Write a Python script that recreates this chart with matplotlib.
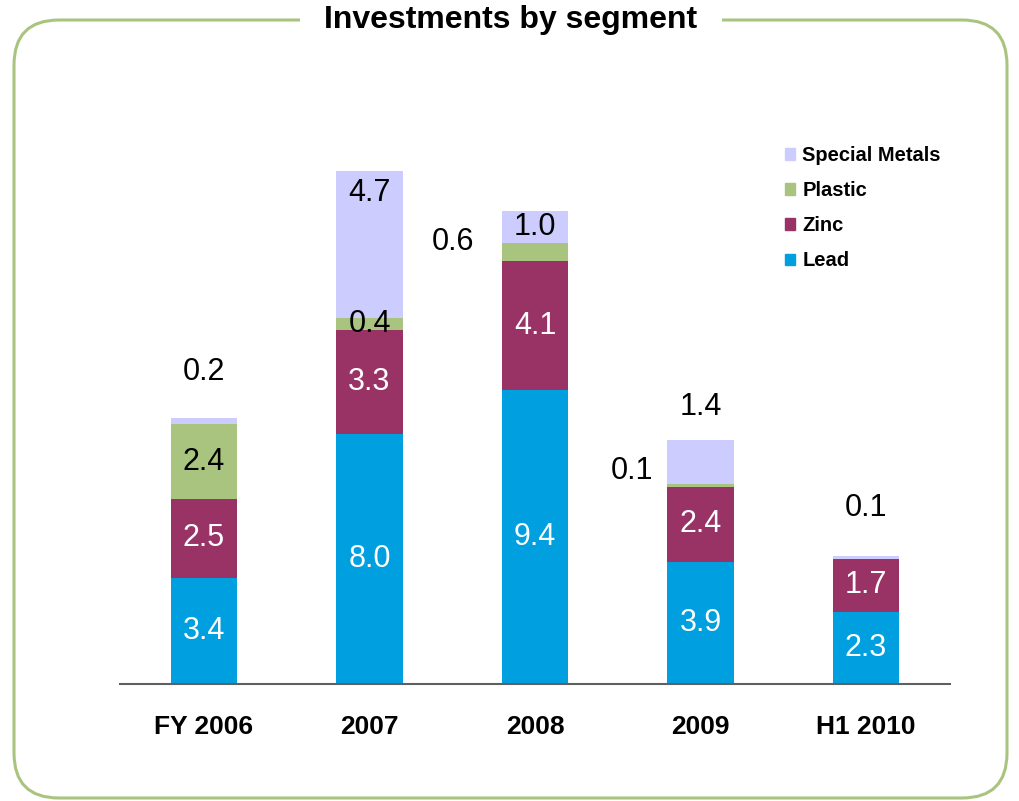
import matplotlib.pyplot as plt
from matplotlib.patches import FancyBboxPatch, Patch
import numpy as np

plt.rcParams['font.family'] = ['Liberation Sans', 'DejaVu Sans']

categories = ['FY 2006', '2007', '2008', '2009', 'H1 2010']
lead = [3.4, 8.0, 9.4, 3.9, 2.3]
zinc = [2.5, 3.3, 4.1, 2.4, 1.7]
plastic = [2.4, 0.4, 0.6, 0.1, 0.0]
special = [0.2, 4.7, 1.0, 1.4, 0.1]
segments = ['Lead', 'Zinc', 'Plastic', 'Special Metals']
colors = ['#009fdf', '#993366', '#a9c47f', '#ccccff']

W, H = 1019, 801
fig = plt.figure(figsize=(W / 100, H / 100), dpi=100)

# frame with rounded corners, drawn in pixel coords
bg = fig.add_axes([0, 0, 1, 1])
bg.set_xlim(0, W)
bg.set_ylim(H, 0)
bg.axis('off')
bg.add_patch(FancyBboxPatch((14, 20), 993, 778,
                            boxstyle='round,pad=0,rounding_size=45',
                            fill=False, edgecolor='#a9c47f', linewidth=2.2))
bg.text(511, 20, 'Investments by segment', ha='center', va='center',
        fontsize=23, fontweight='bold',
        bbox=dict(facecolor='white', edgecolor='none', pad=18))

# chart axes: baseline at y=684px, spans x 120..950px
px = 31.3
left, right, base, top = 120, 950, 684, 140
ax = fig.add_axes([left / W, (H - base) / H, (right - left) / W, (base - top) / H])
ax.set_xlim(-0.5076, 4.5076)
ax.set_ylim(0, (base - top) / px)

x = np.arange(len(categories))
data = [lead, zinc, plastic, special]
bottom = np.zeros(len(x))
for vals, c, name in zip(data, colors, segments):
    ax.bar(x, vals, 0.4, bottom=bottom, color=c, label=name)
    bottom += np.array(vals)

for s in ['top', 'right', 'left']:
    ax.spines[s].set_visible(False)
ax.spines['bottom'].set_color('#606060')
ax.spines['bottom'].set_linewidth(1.5)
ax.set_yticks([])
ax.set_xticks(x)
ax.set_xticklabels(categories, fontsize=19, fontweight='bold')
ax.tick_params(axis='x', length=0, pad=22)

fs = 22
# labels inside bars (white)
cum = np.zeros(len(x))
for vals in data[:2]:
    for i, v in enumerate(vals):
        ax.text(x[i], cum[i] + v / 2, f'{v:.1f}', ha='center', va='center',
                color='white', fontsize=fs)
    cum += np.array(vals)

tot_lz = np.array(lead) + np.array(zinc)
tot = tot_lz + np.array(plastic) + np.array(special)
# FY 2006
ax.text(x[0], tot_lz[0] + plastic[0] / 2, '2.4', ha='center', va='center', fontsize=fs)
ax.annotate('0.2', (x[0], tot[0]), xytext=(0, 33), textcoords='offset points',
            ha='center', va='center', fontsize=fs)
# 2007
ax.text(x[1], tot_lz[1] + plastic[1] / 2, '0.4', ha='center', va='center', fontsize=fs)
ax.annotate('4.7', (x[1], tot[1]), xytext=(0, -16), textcoords='offset points',
            ha='center', va='center', fontsize=fs)
# 2008
ax.text(x[2], tot_lz[2] + plastic[2] + special[2] / 2, '1.0', ha='center', va='center', fontsize=fs)
ax.annotate('0.6', (x[2], tot_lz[2] + plastic[2] / 2), xytext=(-59, 7),
            textcoords='offset points', ha='center', va='center', fontsize=fs)
# 2009
ax.annotate('1.4', (x[3], tot[3]), xytext=(0, 24), textcoords='offset points',
            ha='center', va='center', fontsize=fs)
ax.annotate('0.1', (x[3], tot_lz[3] + plastic[3] / 2), xytext=(-49, 10),
            textcoords='offset points', ha='center', va='center', fontsize=fs)
# H1 2010
ax.annotate('0.1', (x[4], tot[4]), xytext=(0, 34), textcoords='offset points',
            ha='center', va='center', fontsize=fs)

handles = [Patch(color=c, label=n) for c, n in zip(colors, segments)][::-1]
ax.legend(handles=handles, loc='upper left', bbox_to_anchor=((767 - left) / (right - left), 1.022),
          frameon=False, prop={'weight': 'bold', 'size': 14.5},
          handlelength=0.5, handleheight=0.5, handletextpad=0.35, labelspacing=0.8)

fig.savefig('out.png', dpi=100)
